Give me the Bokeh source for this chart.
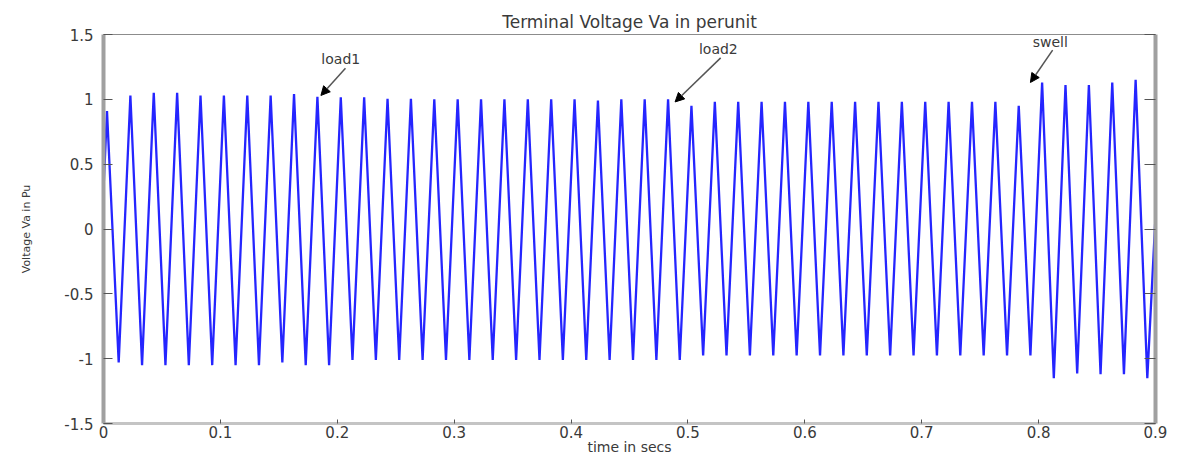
from bokeh.plotting import figure
from bokeh.models import Range1d, LinearAxis, FixedTicker, Arrow, NormalHead, Label, CustomJSTickFormatter
from bokeh.embed import file_html
from bokeh.resources import INLINE

# ---------------- data ----------------
title_text = "Terminal Voltage Va in perunit"
x_label = "time in secs"
y_label = "Voltage Va in Pu"

x_ticks = [0.0, 0.1, 0.2, 0.3, 0.4, 0.5, 0.6, 0.7, 0.8, 0.9]
x_tick_labels = ["0", "0.1", "0.2", "0.3", "0.4", "0.5", "0.6", "0.7", "0.8", "0.9"]
y_ticks = [-1.5, -1.0, -0.5, 0.0, 0.5, 1.0, 1.5]
y_tick_labels = ["-1.5", "-1", "-0.5", "0", "0.5", "1", "1.5"]

start_point = (0.0, 0.3)
end_point = (0.9, 0.1)

peak_times = [0.003, 0.023, 0.043, 0.063, 0.083, 0.103, 0.123, 0.143, 0.163, 0.183,
              0.203, 0.223, 0.243, 0.263, 0.283, 0.303, 0.323, 0.343, 0.363, 0.383,
              0.403, 0.423, 0.443, 0.463, 0.483, 0.503, 0.523, 0.543, 0.563, 0.583,
              0.603, 0.623, 0.643, 0.663, 0.683, 0.703, 0.723, 0.743, 0.763, 0.783,
              0.803, 0.823, 0.843, 0.863, 0.883]
peak_values = [0.91, 1.03, 1.05, 1.05, 1.03, 1.03, 1.03, 1.03, 1.04, 1.02,
               1.015, 1.015, 1.005, 1.005, 1.0, 1.0, 1.0, 1.0, 1.0, 1.0,
               1.0, 0.99, 1.0, 1.0, 1.0, 0.95, 0.98, 0.98, 0.98, 0.98,
               0.98, 0.98, 0.98, 0.98, 0.98, 0.98, 0.98, 0.98, 0.98, 0.95,
               1.13, 1.11, 1.11, 1.13, 1.15]

trough_times = [0.013, 0.033, 0.053, 0.073, 0.093, 0.113, 0.133, 0.153, 0.173, 0.193,
                0.213, 0.233, 0.253, 0.273, 0.293, 0.313, 0.333, 0.353, 0.373, 0.393,
                0.413, 0.433, 0.453, 0.473, 0.493, 0.513, 0.533, 0.553, 0.573, 0.593,
                0.613, 0.633, 0.653, 0.673, 0.693, 0.713, 0.733, 0.753, 0.773, 0.793,
                0.813, 0.833, 0.853, 0.873, 0.893]
trough_values = [-1.03, -1.05, -1.05, -1.05, -1.05, -1.05, -1.05, -1.03, -1.05, -1.05,
                 -1.01, -1.01, -1.01, -1.01, -1.01, -1.01, -1.01, -1.01, -1.01, -1.01,
                 -1.01, -1.01, -1.01, -1.01, -1.01, -0.976, -0.976, -0.976, -0.976, -0.976,
                 -0.976, -0.976, -0.976, -0.976, -0.976, -0.976, -0.976, -0.976, -0.976, -0.976,
                 -1.15, -1.115, -1.12, -1.12, -1.15]

event_labels = ["load1", "load2", "swell"]
event_peak_index = [9, 24, 40]

# ---------------- build trace ----------------
t = [start_point[0]]
v = [start_point[1]]
for pt, pv, tt, tv in zip(peak_times, peak_values, trough_times, trough_values):
    t += [pt, tt]
    v += [pv, tv]
t.append(end_point[0])
v.append(end_point[1])

FONT = "DejaVu Sans"
TXT = "#3a3a3a"
AX = "#a0a0a0"

p = figure(width=1170, height=457, x_range=Range1d(0, 0.9), y_range=Range1d(-1.5, 1.5),
           output_backend="svg", toolbar_location=None, title=title_text,
           min_border_left=103, min_border_right=15, min_border_top=34, min_border_bottom=34,
           background_fill_color="white", border_fill_color="white")
p.grid.visible = False
p.outline_line_color = "#8c8c8c"
p.outline_line_width = 1

p.title.align = "center"
p.title.text_font = FONT
p.title.text_font_size = "17px"
p.title.text_font_style = "normal"
p.title.text_color = TXT
try:
    p.title.standoff = 6
except Exception:
    pass

xa = p.xaxis[0]
xa.ticker = FixedTicker(ticks=x_ticks)
xa.major_label_overrides = {k: s for k, s in zip(x_ticks, x_tick_labels)}
xa.major_tick_in = 4
xa.major_tick_out = 0
xa.minor_tick_in = 0
xa.minor_tick_out = 0
xa.major_tick_line_color = "#555555"
xa.major_label_standoff = 2
xa.major_label_text_font = FONT
xa.major_label_text_font_size = "15px"
xa.major_label_text_color = TXT
xa.axis_line_color = "#c4c4c4"
xa.axis_line_width = 3
xa.axis_label = x_label
xa.axis_label_text_font = FONT
xa.axis_label_text_font_size = "14px"
xa.axis_label_text_font_style = "normal"
xa.axis_label_text_color = TXT
xa.axis_label_standoff = -2

ya = p.yaxis[0]
ya.ticker = FixedTicker(ticks=y_ticks)
ya.major_label_overrides = {k: s for k, s in zip(y_ticks, y_tick_labels)}
ya.major_tick_in = 9
ya.major_tick_out = 0
ya.minor_tick_in = 0
ya.minor_tick_out = 0
ya.major_tick_line_color = "#555555"
ya.major_label_standoff = 10
ya.major_label_text_font = FONT
ya.major_label_text_font_size = "15px"
ya.major_label_text_color = TXT
ya.axis_line_color = AX
ya.axis_line_width = 4
ya.axis_label = y_label
ya.axis_label_text_font = FONT
ya.axis_label_text_font_size = "11px"
ya.axis_label_text_font_style = "normal"
ya.axis_label_text_color = TXT
ya.axis_label_standoff = 28

blank = CustomJSTickFormatter(code="return ''")
ra = LinearAxis(ticker=FixedTicker(ticks=y_ticks), formatter=blank,
                major_label_text_font_size="0px", major_label_standoff=0,
                major_tick_in=11, major_tick_out=0, minor_tick_in=0, minor_tick_out=0,
                major_tick_line_color="#555555", axis_line_color=AX, axis_line_width=4)
p.add_layout(ra, "right")

# waveform
p.line(t, v, line_color="#2525ff", line_width=2.3)

# annotations (arrow tip at the peak of the given cycle)
tip_shift = [(0.003, 0.01), (0.006, -0.02), (-0.010, 0.0)]
tail_shift = [(0.021, 0.21), (0.039, 0.34), (0.019, 0.25)]
text_shift = [(0.017, 0.28), (0.037, 0.41), (0.017, 0.31)]
for lab, idx, ts, tl, tx in zip(event_labels, event_peak_index, tip_shift, tail_shift, text_shift):
    px = peak_times[idx] + ts[0]
    py = peak_values[idx] + ts[1]
    p.add_layout(Arrow(end=NormalHead(size=9, fill_color="black", line_color="black"),
                       x_start=px + tl[0], y_start=py + tl[1], x_end=px, y_end=py,
                       line_color="#555555", line_width=1.5))
    p.add_layout(Label(x=px + tx[0], y=py + tx[1], text=lab, text_align="center",
                       text_baseline="middle", text_font=FONT, text_font_size="14px",
                       text_color=TXT))

open("out.html", "w").write(file_html(p, INLINE))
